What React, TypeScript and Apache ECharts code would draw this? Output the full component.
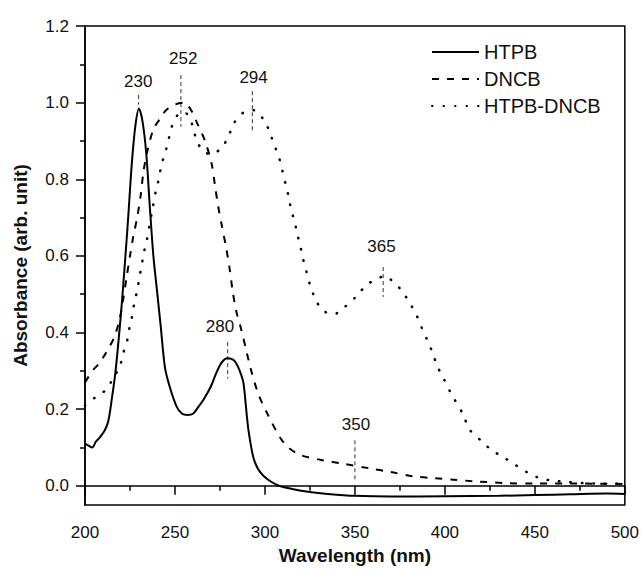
import React, { useEffect, useRef } from "react";
import * as echarts from "echarts";

// ---------- data ----------
const htpbWl = [200, 202, 204, 206, 208, 211, 213, 215, 217, 220, 222, 224, 226, 228, 230, 232, 234, 236, 238, 240, 242, 244.4, 247, 251, 254, 257, 260, 263, 266, 270, 273, 276, 279, 282, 284, 286, 288, 290, 291, 293.5, 296, 299, 303, 308, 315, 325, 335, 350, 370, 400, 430, 450, 470, 490, 500];
const htpbAbs = [0.11, 0.105, 0.1, 0.115, 0.125, 0.145, 0.17, 0.23, 0.3, 0.45, 0.57, 0.7, 0.84, 0.94, 0.985, 0.95, 0.87, 0.73, 0.6, 0.51, 0.42, 0.31, 0.26, 0.206, 0.188, 0.185, 0.188, 0.206, 0.226, 0.26, 0.295, 0.322, 0.333, 0.33, 0.32, 0.3, 0.27, 0.18, 0.14, 0.075, 0.045, 0.027, 0.012, 0.0, -0.008, -0.016, -0.021, -0.026, -0.028, -0.027, -0.026, -0.024, -0.022, -0.02, -0.021];

const dncbWl = [200, 202, 205, 208, 212, 216, 219, 221, 223, 225, 227, 229, 231, 232.5, 234.5, 238, 242, 245, 250, 255, 259, 262, 266.7, 270.4, 272.2, 274, 276, 278.3, 280.5, 282, 284, 287, 289.8, 292, 296.3, 301.8, 308.3, 313, 320, 332, 343, 359, 370, 382, 394, 405, 416, 435, 450, 470, 500];
const dncbAbs = [0.27, 0.285, 0.305, 0.32, 0.35, 0.385, 0.43, 0.48, 0.54, 0.6, 0.655, 0.7, 0.76, 0.82, 0.87, 0.93, 0.96, 0.98, 0.995, 1.0, 0.98, 0.95, 0.9, 0.84, 0.785, 0.73, 0.68, 0.625, 0.563, 0.51, 0.457, 0.405, 0.35, 0.307, 0.24, 0.184, 0.127, 0.1, 0.08, 0.067, 0.058, 0.045, 0.036, 0.025, 0.02, 0.016, 0.012, 0.007, 0.006, 0.006, 0.005];

const mixWl = [200, 205.5, 211.5, 215, 219.4, 221.3, 223.5, 225, 226.3, 227.4, 229, 230.2, 231.5, 232.8, 234.3, 237, 239.5, 241, 242.6, 244.8, 246.3, 248.2, 251.8, 254, 256.8, 259.8, 261.7, 265.2, 270, 275.4, 279.6, 282.8, 288, 294, 300, 302.8, 305.6, 308, 309.8, 311.5, 313.2, 314.6, 316.5, 318, 319.8, 321.3, 323.2, 325, 327.8, 332, 338.3, 344.4, 350.9, 356.8, 363, 366, 370, 375.9, 380.5, 384.3, 387.2, 390.4, 393.2, 395.7, 399, 403, 410.4, 413.3, 420.3, 426, 432.8, 439.7, 446.6, 452.2, 459, 468.3, 477, 486, 500];
const mixAbs = [0.21, 0.23, 0.25, 0.275, 0.313, 0.347, 0.38, 0.42, 0.445, 0.477, 0.51, 0.543, 0.576, 0.61, 0.64, 0.71, 0.773, 0.8, 0.84, 0.873, 0.9, 0.937, 0.97, 0.975, 0.97, 0.94, 0.906, 0.876, 0.865, 0.88, 0.91, 0.947, 0.974, 0.98, 0.95, 0.92, 0.885, 0.854, 0.82, 0.787, 0.754, 0.72, 0.69, 0.657, 0.623, 0.59, 0.557, 0.525, 0.49, 0.458, 0.448, 0.467, 0.495, 0.526, 0.54, 0.548, 0.538, 0.51, 0.477, 0.445, 0.412, 0.378, 0.347, 0.313, 0.283, 0.245, 0.184, 0.149, 0.117, 0.093, 0.074, 0.053, 0.033, 0.021, 0.014, 0.01, 0.007, 0.006, 0.005];

// peak annotations
const peakNames = ["230", "252", "294", "280", "365", "350"];
const peakX = [229.8, 253.3, 293, 279.3, 365.7, 350];
const peakTop = [1.02, 1.072, 1.03, 0.375, 0.571, 0.119];
const peakBottom = [0.995, 0.937, 0.925, 0.28, 0.493, 0.01];
const peakLabelX = [229.6, 254.6, 293.7, 275, 364.8, 350.6];
const peakLabelY = [1.054, 1.115, 1.065, 0.415, 0.625, 0.16];

// axis ticks
const yMajor = [0, 0.2, 0.4, 0.6, 0.8, 1.0, 1.2];
const yMinor = [0.1, 0.3, 0.5, 0.7, 0.9, 1.1];

const FONT = "'Liberation Sans', Arial, Helvetica, sans-serif";
const INK = "#111";

export default function App() {
  const ref = useRef<HTMLDivElement>(null);

  useEffect(() => {
    document.body.style.margin = "0";
    const chart = echarts.init(ref.current!, null, { renderer: "svg" });

    const zip = (xs: number[], ys: number[]) => xs.map((x, i) => [x, ys[i]]);

    const markerSeries = peakNames.map((n, i) => ({
      name: "mark-" + n,
      type: "line",
      data: [
        [peakX[i], peakTop[i]],
        [peakX[i], peakBottom[i]],
      ],
      symbol: "none",
      silent: true,
      lineStyle: { color: "#333", width: 1, type: [4, 3] },
      z: 3,
    }));

    const option: any = {
      animation: false,
      backgroundColor: "#fff",
      textStyle: { fontFamily: FONT, color: INK },
      grid: {
        left: 85,
        right: 17,
        top: 26,
        bottom: 67,
        show: true,
        borderColor: "#000",
        borderWidth: 1.5,
        backgroundColor: "transparent",
      },
      legend: {
        data: ["HTPB", "DNCB", "HTPB-DNCB"],
        orient: "vertical",
        left: 431,
        top: 42,
        padding: 0,
        itemWidth: 47,
        itemHeight: 14,
        itemGap: 7,
        itemStyle: { color: "rgba(0,0,0,0)", borderWidth: 0, opacity: 0 },
        textStyle: { fontFamily: FONT, fontSize: 20, color: INK, lineHeight: 20 },
        selectedMode: false,
      },
      xAxis: {
        type: "value",
        min: 200,
        max: 500,
        interval: 50,
        name: "Wavelength (nm)",
        nameLocation: "middle",
        nameGap: 40,
        nameTextStyle: { fontFamily: FONT, fontSize: 19, fontWeight: "bold", color: INK },
        axisLine: { show: true, lineStyle: { color: "#000", width: 1.5 } },
        axisTick: { show: true, inside: false, length: 9, lineStyle: { color: "#000", width: 1.5 } },
        minorTick: { show: true, splitNumber: 2, length: 5, lineStyle: { color: "#000", width: 1.5 } },
        axisLabel: { fontFamily: FONT, fontSize: 17, color: INK, margin: 19 },
        splitLine: { show: false },
        minorSplitLine: { show: false },
      },
      yAxis: [
        {
          type: "value",
          min: -0.05,
          max: 1.2,
          position: "left",
          name: "Absorbance (arb. unit)",
          nameLocation: "middle",
          nameRotate: 90,
          nameGap: 55,
          nameTextStyle: { fontFamily: FONT, fontSize: 19, fontWeight: "bold", color: INK },
          axisLine: { show: true, lineStyle: { color: "#000", width: 1.5 } },
          axisTick: {
            show: true,
            inside: false,
            length: 9,
            customValues: yMajor,
            lineStyle: { color: "#000", width: 1.5 },
          },
          axisLabel: {
            fontFamily: FONT,
            fontSize: 17,
            color: INK,
            margin: 16,
            customValues: yMajor,
            formatter: (v: number) => v.toFixed(1),
          },
          splitLine: { show: false },
        },
        {
          type: "value",
          min: -0.05,
          max: 1.2,
          position: "left",
          offset: 0,
          axisLine: { show: false },
          axisTick: {
            show: true,
            inside: false,
            length: 5,
            customValues: yMinor,
            lineStyle: { color: "#000", width: 1.5 },
          },
          axisLabel: { show: false },
          splitLine: { show: false },
        },
      ],
      series: [
        {
          name: "HTPB",
          type: "line",
          data: zip(htpbWl, htpbAbs),
          symbol: "none",
          smooth: 0.3,
          clip: true,
          lineStyle: { color: "#000", width: 2 },
          itemStyle: { color: "#000" },
          z: 5,
        },
        {
          name: "DNCB",
          type: "line",
          data: zip(dncbWl, dncbAbs),
          symbol: "none",
          smooth: 0.3,
          clip: true,
          lineStyle: { color: "#000", width: 2, type: [7, 8] },
          itemStyle: { color: "#000" },
          z: 5,
        },
        {
          name: "HTPB-DNCB",
          type: "line",
          data: zip(mixWl, mixAbs),
          symbol: "none",
          smooth: 0.3,
          clip: true,
          lineStyle: { color: "#000", width: 2.5, type: [0.5, 11], cap: "round" },
          itemStyle: { color: "#000" },
          z: 5,
        },
        ...markerSeries,
        {
          name: "peak-labels",
          type: "scatter",
          symbolSize: 0,
          silent: true,
          itemStyle: { opacity: 1, color: INK },
          data: peakNames.map((n, i) => ({ name: n, value: [peakLabelX[i], peakLabelY[i]] })),
          label: {
            show: true,
            position: "inside",
            formatter: "{b}",
            fontFamily: FONT,
            fontSize: 17,
            color: INK,
            opacity: 1,
          },
          z: 6,
        },
      ],
    };

    chart.setOption(option);
    return () => chart.dispose();
  }, []);

  return <div ref={ref} style={{ width: 642, height: 572, background: "#fff" }} />;
}
